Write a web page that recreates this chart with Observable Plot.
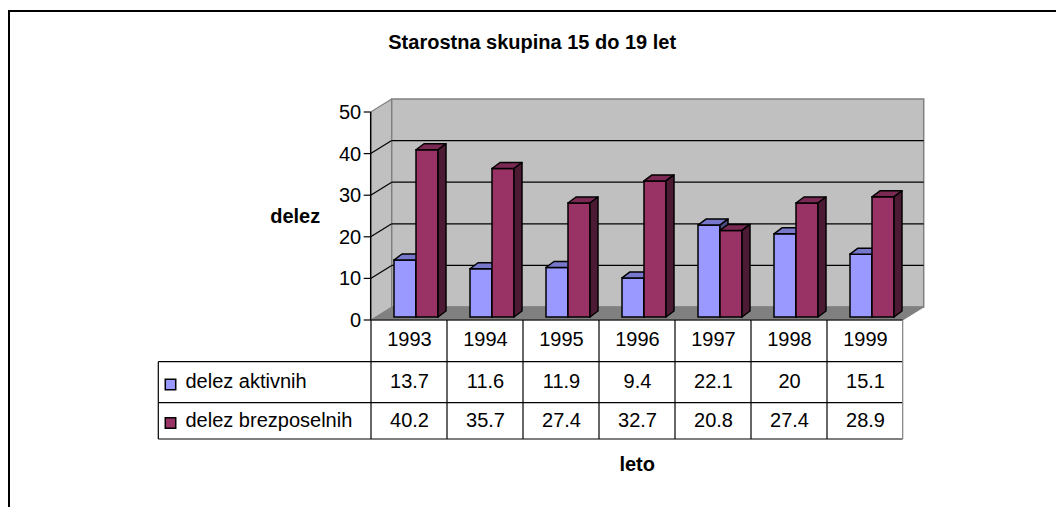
<!DOCTYPE html>
<html>
<head>
<meta charset="utf-8">
<script src="https://cdn.jsdelivr.net/npm/d3@7"></script>
<script src="https://cdn.jsdelivr.net/npm/@observablehq/plot@0.6"></script>
<style>
  html, body { margin: 0; padding: 0; background: #fff; }
  #wrap { position: relative; width: 1056px; height: 507px; overflow: hidden; }
  #wrap svg { position: absolute; left: 0; top: 0; }
  #frame { position: absolute; left: 8px; top: 10px; width: 1060px; height: 520px;
           border-top: 2px solid #000; border-left: 2px solid #000; pointer-events: none; }
</style>
</head>
<body>
<div id="wrap"><div id="frame"></div></div>
<script>
// ---- data ----
const years = ["1993", "1994", "1995", "1996", "1997", "1998", "1999"];
const aktivnih = [13.7, 11.6, 11.9, 9.4, 22.1, 20, 15.1];
const brezposelnih = [40.2, 35.7, 27.4, 32.7, 20.8, 27.4, 28.9];
const seriesNames = ["delez aktivnih", "delez brezposelnih"];
const seriesColors = ["#9999ff", "#993366"];
const topColors = ["#7777cc", "#7a2952"];
const sideColors = ["#4d4d80", "#4d1a33"];
const yTicks = [0, 10, 20, 30, 40, 50];
const titleText = "Starostna skupina 15 do 19 let";
const yLabel = "delez";
const xLabel = "leto";

const aktivData = years.map((year, i) => ({year, value: aktivnih[i]}));
const brezData = years.map((year, i) => ({year, value: brezposelnih[i]}));

// ---- styling constants (pixels) ----
const DEPTH = [21, -13];      // wall depth
const BAR_DEPTH = [8, -6];    // bar depth
const BAR_SHIFT = [5, -3];    // bars sit slightly inside the floor
const insets = [[18, 36], [40, 14]];
const ROW = [41.7, 82.7, 119];
const ROW_TEXT = [19.5, 61.5, 100];
const LEGEND_COL = 212.4;

function walls(index, scales) {
  const {x, y} = scales;
  const [x0, x1] = x.range();
  const y0 = y(0), yTop = y(d3.max(yTicks));
  const [dx, dy] = DEPTH;
  const g = d3.create("svg:g");
  g.append("path").attr("fill", "#c0c0c0")
    .attr("d", `M${x0},${y0}L${x0},${yTop}L${x0 + dx},${yTop + dy}L${x0 + dx},${y0 + dy}Z`);
  g.append("rect").attr("fill", "#c0c0c0").attr("stroke", "#808080").attr("stroke-width", 1.5)
    .attr("x", x0 + dx).attr("y", yTop + dy).attr("width", x1 - x0).attr("height", y0 - yTop);
  g.append("path").attr("fill", "#808080").attr("stroke", "#808080")
    .attr("d", `M${x0},${y0}L${x1},${y0}L${x1 + dx},${y0 + dy}L${x0 + dx},${y0 + dy}Z`);
  for (const t of yTicks) {
    const yy = y(t);
    if (t > 0 && t < d3.max(yTicks)) {
      g.append("line").attr("stroke", "#000").attr("stroke-width", 1.2)
        .attr("x1", x0 + dx).attr("x2", x1 + dx).attr("y1", yy + dy).attr("y2", yy + dy);
    }
    if (t > 0) {
      g.append("line").attr("stroke", t === d3.max(yTicks) ? "#808080" : "#000").attr("stroke-width", 1.2)
        .attr("x1", x0).attr("x2", x0 + dx).attr("y1", yy).attr("y2", yy + dy);
    }
    g.append("line").attr("stroke", "#000").attr("stroke-width", 1.2)
      .attr("x1", x0 - 7).attr("x2", x0).attr("y1", yy).attr("y2", yy);
  }
  g.append("line").attr("stroke", "#000").attr("stroke-width", 1.5)
    .attr("x1", x0).attr("x2", x0).attr("y1", y0).attr("y2", yTop);
  return g.node();
}

function barFaces(data, s) {
  return (index, scales) => {
    const {x, y} = scales;
    const bw = x.bandwidth ? x.bandwidth() : (x(years[1]) - x(years[0]));
    const [inL, inR] = insets[s];
    const [bx, by] = BAR_DEPTH;
    const g = d3.create("svg:g").attr("stroke", "#000").attr("stroke-width", 1.5).attr("stroke-linejoin", "round");
    for (const d of data) {
      const xl = x(d.year) + inL + BAR_SHIFT[0];
      const xr = x(d.year) + bw - inR + BAR_SHIFT[0];
      const yt = y(d.value) + BAR_SHIFT[1];
      const yb = y(0) + BAR_SHIFT[1];
      g.append("path").attr("fill", topColors[s])
        .attr("d", `M${xl},${yt}L${xr},${yt}L${xr + bx},${yt + by}L${xl + bx},${yt + by}Z`);
      g.append("path").attr("fill", sideColors[s])
        .attr("d", `M${xr},${yt}L${xr + bx},${yt + by}L${xr + bx},${yb + by}L${xr},${yb}Z`);
    }
    return g.node();
  };
}

function tableGrid(index, scales) {
  const {x, y} = scales;
  const [x0, x1] = x.range();
  const y0 = y(0);
  const xl = x0 - LEGEND_COL;
  const g = d3.create("svg:g").attr("stroke", "#000").attr("stroke-width", 1.2);
  g.append("line").attr("x1", x0).attr("x2", x1).attr("y1", y0).attr("y2", y0);
  for (const r of ROW) {
    g.append("line").attr("x1", xl).attr("x2", x1).attr("y1", y0 + r).attr("y2", y0 + r);
  }
  g.append("line").attr("x1", xl).attr("x2", xl).attr("y1", y0 + ROW[0]).attr("y2", y0 + ROW[2]);
  for (const yr of years) {
    g.append("line").attr("x1", x(yr)).attr("x2", x(yr)).attr("y1", y0).attr("y2", y0 + ROW[2]);
  }
  g.append("line").attr("stroke", "#808080").attr("x1", x1).attr("x2", x1).attr("y1", y0).attr("y2", y0 + ROW[2]);
  return g.node();
}

const legendMarks = seriesNames.flatMap((name, i) => [
  Plot.dot([name], {frameAnchor: "bottom-left", dx: -200.7, dy: ROW_TEXT[i + 1] + 2.5,
    symbol: "square", r: 5.9, fill: seriesColors[i], stroke: "#000", strokeWidth: 1.5}),
  Plot.text([name], {frameAnchor: "bottom-left", text: d => d, textAnchor: "start", lineAnchor: "middle",
    dx: -185.7, dy: ROW_TEXT[i + 1], fontSize: 20})
]);

const chart = Plot.plot({
  width: 1056,
  height: 507,
  marginLeft: 370.7,
  marginRight: 153.3,
  marginTop: 112,
  marginBottom: 187,
  style: {fontFamily: "'Liberation Sans', Arial, sans-serif", fontSize: "20px", color: "#000", background: "transparent"},
  x: {type: "band", domain: years, padding: 0, axis: null},
  y: {domain: [0, 50], axis: null},
  marks: [
    walls,
    Plot.barY(aktivData, {x: "year", y: "value", fill: seriesColors[0], stroke: "#000", strokeWidth: 1.5,
      insetLeft: insets[0][0], insetRight: insets[0][1], dx: BAR_SHIFT[0], dy: BAR_SHIFT[1]}),
    barFaces(aktivData, 0),
    Plot.barY(brezData, {x: "year", y: "value", fill: seriesColors[1], stroke: "#000", strokeWidth: 1.5,
      insetLeft: insets[1][0], insetRight: insets[1][1], dx: BAR_SHIFT[0], dy: BAR_SHIFT[1]}),
    barFaces(brezData, 1),
    Plot.text(yTicks, {y: d => d, text: d => String(d), frameAnchor: "left", textAnchor: "end", lineAnchor: "middle", dx: -10, fontSize: 20}),
    tableGrid,
    Plot.text(years, {x: d => d, text: d => d, frameAnchor: "bottom", lineAnchor: "middle", dy: ROW_TEXT[0], fontSize: 20}),
    Plot.text(aktivData, {x: "year", text: d => String(d.value), frameAnchor: "bottom", lineAnchor: "middle", dy: ROW_TEXT[1], fontSize: 20}),
    Plot.text(brezData, {x: "year", text: d => String(d.value), frameAnchor: "bottom", lineAnchor: "middle", dy: ROW_TEXT[2], fontSize: 20}),
    ...legendMarks,
    Plot.text([titleText], {frameAnchor: "top", textAnchor: "middle", lineAnchor: "middle", dx: -105, dy: -70, fontSize: 20, fontWeight: "bold", letterSpacing: 0.5}),
    Plot.text([yLabel], {frameAnchor: "left", textAnchor: "middle", lineAnchor: "middle", dx: -76, fontSize: 20, fontWeight: "bold", letterSpacing: 1}),
    Plot.text([xLabel], {frameAnchor: "bottom", textAnchor: "middle", lineAnchor: "middle", dy: 144, fontSize: 20, fontWeight: "bold", letterSpacing: 1})
  ]
});
document.getElementById("wrap").prepend(chart);
</script>
</body>
</html>
